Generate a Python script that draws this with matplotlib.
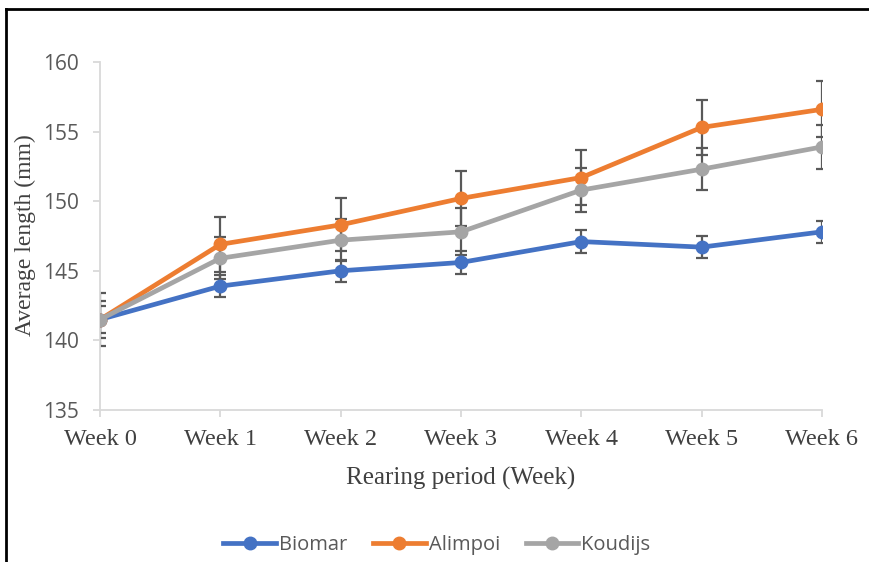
import matplotlib
matplotlib.use("Agg")
import matplotlib.pyplot as plt
from matplotlib.lines import Line2D

categories = ["Week 0", "Week 1", "Week 2", "Week 3", "Week 4", "Week 5", "Week 6"]
biomar = [141.5, 143.9, 145.0, 145.6, 147.1, 146.7, 147.8]
biomar_err = [1.0, 0.8, 0.8, 0.8, 0.8, 0.8, 0.8]
alimpoi = [141.5, 146.9, 148.3, 150.2, 151.7, 155.3, 156.6]
alimpoi_err = [1.9, 2.0, 1.9, 2.0, 2.0, 2.0, 2.0]
koudijs = [141.5, 145.9, 147.2, 147.8, 150.8, 152.3, 153.9]
koudijs_err = [1.3, 1.5, 1.5, 1.7, 1.6, 1.5, 1.6]
series_names = ["Biomar", "Alimpoi", "Koudijs"]
yticks = [135, 140, 145, 150, 155, 160]

colors = ["#4472C4", "#ED7D31", "#A5A5A5"]

fig = plt.figure(figsize=(8.7, 5.62), dpi=100)
ax = fig.add_axes([100/870, 1-410/562, (822-100)/870, (410-62)/562])

x = list(range(len(categories)))
for vals, errs in zip([biomar, alimpoi, koudijs], [biomar_err, alimpoi_err, koudijs_err]):
    ax.errorbar(x, vals, yerr=errs, fmt='none', ecolor="#595959", elinewidth=1.6,
                capsize=4, capthick=1.6, zorder=2)
for vals, c, name in zip([biomar, alimpoi, koudijs], colors, series_names):
    ax.plot(x, vals, color=c, lw=3.4, marker='o', markersize=9, label=name, zorder=3)

ax.set_xlim(0, 6)
ax.set_ylim(135, 160)
ax.set_yticks(yticks)
ax.set_xticks(x)
ax.set_xticklabels(categories, family="Liberation Serif", fontsize=17.5, color="#404040")
ax.set_yticklabels([str(v) for v in yticks], family="Open Sans", fontsize=15, color="#595959")
for s in ["top", "right"]:
    ax.spines[s].set_visible(False)
for s in ["left", "bottom"]:
    ax.spines[s].set_color("#D9D9D9")
    ax.spines[s].set_linewidth(1.3)
ax.tick_params(axis='both', direction='out', color="#D9D9D9", width=1.3, length=5)
ax.tick_params(axis='x', pad=9)
ax.tick_params(axis='y', pad=10)
for sp in ax.spines.values():
    sp.set_clip_on(False)

ax.set_xlabel("Rearing period (Week)", family="Liberation Serif", fontsize=18, color="#404040")
ax.set_ylabel("Average length (mm)", family="Liberation Serif", fontsize=17, color="#404040")
ax.xaxis.set_label_coords(0.5, -(478-410)/348, transform=ax.transAxes)
ax.xaxis.label.set_va("center")
ax.yaxis.set_label_coords(-(100-25)/722, (410-235)/348, transform=ax.transAxes)
ax.yaxis.label.set_va("center")

leg = fig.legend(loc="center", bbox_to_anchor=(437/870, 1-545/562), ncol=3, frameon=False,
                 prop={"family": "Open Sans", "size": 14.5}, handlelength=2.6,
                 columnspacing=1.3, handletextpad=0.15)
for t in leg.get_texts():
    t.set_color("#595959")

# figure frame (left and top borders)
fig.add_artist(Line2D([6/870, 6/870], [0, 1-9/562], transform=fig.transFigure, color="black", lw=2))
fig.add_artist(Line2D([6/870, 1], [1-9/562, 1-9/562], transform=fig.transFigure, color="black", lw=2))

fig.savefig("out.png", dpi=100)
